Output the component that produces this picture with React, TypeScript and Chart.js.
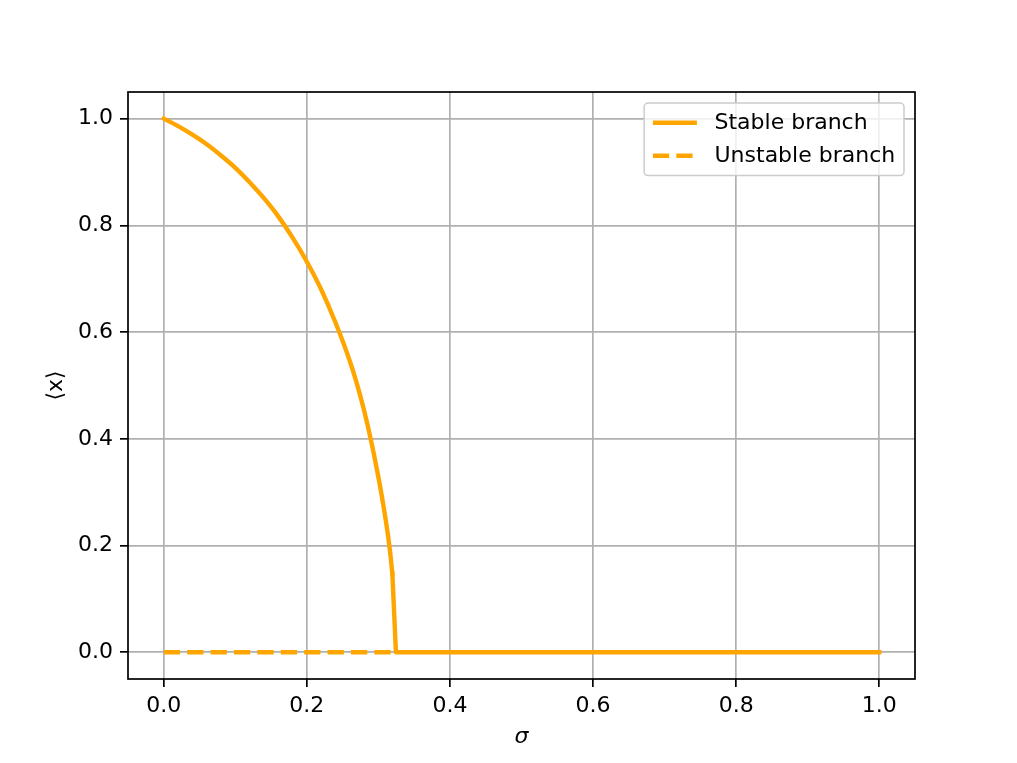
import { useEffect, useRef } from "react";
import { Chart, registerables } from "chart.js";

Chart.register(...registerables);

// ---- data ----
const stableSigma = [0, 0.02, 0.04, 0.06, 0.08, 0.1, 0.12, 0.14, 0.16, 0.18, 0.2, 0.22, 0.24, 0.26, 0.27, 0.28, 0.29, 0.3, 0.305, 0.31, 0.314, 0.317, 0.3195];
const stableMean = [1.0, 0.986, 0.97, 0.952, 0.931, 0.908, 0.881, 0.851, 0.817, 0.777, 0.732, 0.68, 0.618, 0.546, 0.503, 0.453, 0.395, 0.328, 0.291, 0.25, 0.213, 0.18, 0.147];
const stableTailSigma = [0.3195, 0.3245, 1.0];
const stableTailMean = [0.147, 0, 0];
const unstableSigma = [0, 0.3245];
const unstableMean = [0, 0];
const xTicks = [0, 0.2, 0.4, 0.6, 0.8, 1.0];
const yTicks = [0, 0.2, 0.4, 0.6, 0.8, 1.0];
const legendLabels = ["Stable branch", "Unstable branch"];
const xTitle = "σ";
const yTitle = "⟨x⟩";

const ORANGE = "#FFA500";
const FAMILY = "'DejaVu Sans', sans-serif";
const FS = 22;

const toPts = (xs: number[], ys: number[]) => xs.map((x, i) => ({ x, y: ys[i] }));

const framePlugin = {
  id: "frameLegend",
  afterDatasetsDraw(chart: any) {
    const { ctx, chartArea: a } = chart;
    ctx.save();
    ctx.strokeStyle = "#000";
    ctx.lineWidth = 1.7;
    ctx.strokeRect(a.left, a.top, a.right - a.left, a.bottom - a.top);
    ctx.restore();
  },
  afterDraw(chart: any) {
    const { ctx, chartArea: a } = chart;
    ctx.save();
    ctx.font = `${FS}px ${FAMILY}`;
    const textW = Math.max(...legendLabels.map((t) => ctx.measureText(t).width));
    const pad = 0.4 * FS;
    const handleLen = 2 * FS;
    const handlePad = 0.8 * FS;
    const rowH = FS;
    const spacing = 0.5 * FS;
    const w = pad + handleLen + handlePad + textW + pad;
    const h = pad * 2 + rowH * 2 + spacing;
    const right = a.right - 0.5 * FS;
    const top = a.top + 0.5 * FS;
    const left = right - w;
    ctx.beginPath();
    ctx.roundRect(left, top, w, h, 4);
    ctx.fillStyle = "rgba(255,255,255,0.8)";
    ctx.fill();
    ctx.strokeStyle = "#cccccc";
    ctx.lineWidth = 1.5;
    ctx.stroke();
    legendLabels.forEach((label, i) => {
      const cy = top + pad + rowH / 2 + i * (rowH + spacing);
      ctx.beginPath();
      ctx.strokeStyle = ORANGE;
      ctx.lineWidth = 4.4;
      ctx.setLineDash(i === 0 ? [] : [16.3, 7.1]);
      ctx.lineCap = "butt";
      ctx.moveTo(left + pad, cy);
      ctx.lineTo(left + pad + handleLen, cy);
      ctx.stroke();
      ctx.setLineDash([]);
      ctx.fillStyle = "#000";
      ctx.textAlign = "left";
      ctx.textBaseline = "middle";
      ctx.fillText(label, left + pad + handleLen + handlePad, cy);
    });
    ctx.restore();
  },
};

export default function App() {
  const ref = useRef<HTMLCanvasElement | null>(null);

  useEffect(() => {
    if (!ref.current) return;
    const tickFont = { size: FS, family: FAMILY };
    const chart = new Chart(ref.current, {
      type: "scatter",
      data: {
        datasets: [
          {
            label: legendLabels[0],
            data: toPts(stableSigma, stableMean),
            showLine: true,
            borderColor: ORANGE,
            backgroundColor: ORANGE,
            borderWidth: 4.4,
            pointRadius: 0,
            cubicInterpolationMode: "monotone",
            borderJoinStyle: "round",
            borderCapStyle: "square",
          },
          {
            label: legendLabels[0] + " (tail)",
            data: toPts(stableTailSigma, stableTailMean),
            showLine: true,
            borderColor: ORANGE,
            backgroundColor: ORANGE,
            borderWidth: 4.4,
            pointRadius: 0,
            tension: 0,
            borderJoinStyle: "round",
            borderCapStyle: "square",
          },
          {
            label: legendLabels[1],
            data: toPts(unstableSigma, unstableMean),
            showLine: true,
            borderColor: ORANGE,
            backgroundColor: ORANGE,
            borderWidth: 4.4,
            pointRadius: 0,
            borderDash: [16.3, 7.1],
            borderCapStyle: "butt",
          },
        ],
      },
      options: {
        responsive: false,
        animation: false,
        layout: { padding: { left: 0, top: 92, right: 102, bottom: 0 } },
        plugins: { legend: { display: false }, tooltip: { enabled: false } },
        scales: {
          x: {
            type: "linear",
            min: -0.05,
            max: 1.05,
            afterBuildTicks: (s: any) => {
              s.ticks = xTicks.map((v) => ({ value: v }));
            },
            afterFit: (s: any) => {
              s.height = 84;
            },
            ticks: {
              callback: (v: any) => Number(v).toFixed(1),
              color: "#000",
              font: tickFont,
              padding: 6,
              maxRotation: 0,
              autoSkip: false,
            },
            grid: { color: "#b0b0b0", lineWidth: 1.7, tickColor: "#000", tickLength: 8, tickWidth: 1.7 },
            border: { display: false },
            title: {
              display: true,
              text: xTitle,
              color: "#000",
              font: { size: FS, family: FAMILY, style: "italic" },
              padding: { top: 0, bottom: 13 },
            },
          },
          y: {
            type: "linear",
            min: -0.05,
            max: 1.05,
            afterBuildTicks: (s: any) => {
              s.ticks = yTicks.map((v) => ({ value: v }));
            },
            afterFit: (s: any) => {
              s.width = 128;
            },
            ticks: {
              callback: (v: any) => Number(v).toFixed(1),
              color: "#000",
              font: tickFont,
              padding: 7,
              autoSkip: false,
            },
            grid: { color: "#b0b0b0", lineWidth: 1.7, tickColor: "#000", tickLength: 8, tickWidth: 1.7 },
            border: { display: false },
            title: {
              display: true,
              text: yTitle,
              color: "#000",
              font: { size: FS, family: FAMILY },
              padding: { top: 43, bottom: 0 },
            },
          },
        },
      },
      plugins: [framePlugin],
    } as any);
    return () => chart.destroy();
  }, []);

  return (
    <div style={{ position: "absolute", left: 0, top: 0, width: 1017, height: 763, background: "#fff" }}>
      <canvas ref={ref} width={1017} height={763} style={{ display: "block", width: 1017, height: 763 }} />
    </div>
  );
}
